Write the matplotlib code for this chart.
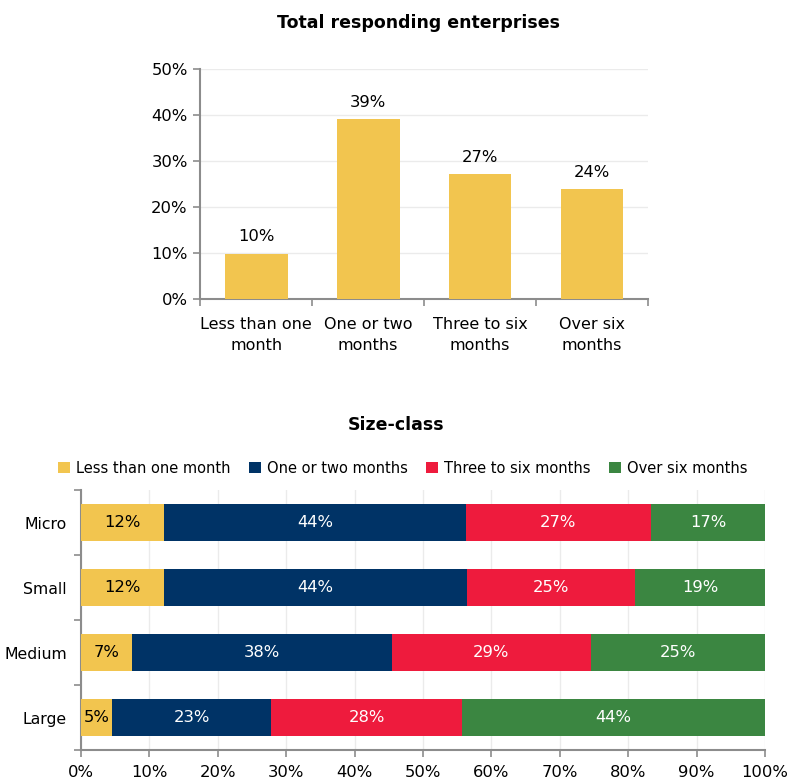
"""Time needed by enterprises: total responses and split by size-class."""

import matplotlib

matplotlib.use("Agg")
import matplotlib.pyplot as plt
import numpy as np

# Total responding enterprises
periods = ["Less than one\nmonth", "One or two\nmonths", "Three to six\nmonths", "Over six\nmonths"]
total_share = [9.9, 39.2, 27.1, 23.9]

# Size-class breakdown (share of each size-class, %)
size_classes = ["Micro", "Small", "Medium", "Large"]
series_names = ["Less than one month", "One or two months", "Three to six months", "Over six months"]
less_one = [12.1, 12.1, 7.4, 4.6]
one_two = [44.2, 44.3, 38.0, 23.2]
three_six = [27.0, 24.6, 29.2, 27.9]
over_six = [16.7, 19.0, 25.4, 44.3]

YELLOW = "#F2C54F"
NAVY = "#003366"
RED = "#EE1B3D"
GREEN = "#3B8641"
colors = [YELLOW, NAVY, RED, GREEN]
label_colors = ["black", "white", "white", "white"]
AXIS = "#8C8C8C"
GRID = "#EBEBEB"
FS = 11.3

plt.rcParams["font.family"] = ["DejaVu Sans"]

fig = plt.figure(figsize=(7.88, 7.83), dpi=100)

# --- top: total responding enterprises ---
ax_t = fig.add_axes([0.254, 0.618, 0.5685, 0.2937])
x = np.arange(len(periods))
ax_t.bar(x, total_share, width=0.56, color=YELLOW, zorder=3)
for xi, v in zip(x, total_share):
    ax_t.text(xi, v + 2.0, f"{v:.0f}%", ha="center", va="bottom", fontsize=FS + 0.5)
ax_t.set_xlim(-0.5, len(periods) - 0.5)
ax_t.set_ylim(0, 50)
ax_t.set_yticks(np.arange(0, 51, 10))
ax_t.set_yticklabels([f"{t}%" for t in range(0, 51, 10)], fontsize=FS + 0.5)
ax_t.set_xticks(x)
ax_t.set_xticklabels(periods, fontsize=FS + 0.2, linespacing=1.5)
ax_t.set_xticks(np.arange(-0.5, len(periods)), minor=True)
ax_t.tick_params(axis="x", which="major", length=0, pad=13)
ax_t.tick_params(axis="x", which="minor", length=5, color=AXIS, width=1.2)
ax_t.tick_params(axis="y", length=5, color=AXIS, width=1.2, pad=4)
ax_t.yaxis.grid(True, color=GRID, lw=1, zorder=0)
for side in ("top", "right"):
    ax_t.spines[side].set_visible(False)
for side in ("left", "bottom"):
    ax_t.spines[side].set_color(AXIS)
    ax_t.spines[side].set_linewidth(1.5)
fig.text(0.531, 0.971, "Total responding enterprises", ha="center", va="center",
         fontsize=12.5, fontweight="bold")

# --- bottom: size-class stacked bars ---
ax_b = fig.add_axes([0.1028, 0.0421, 0.868, 0.332])
y = np.arange(len(size_classes))
left = np.zeros(len(size_classes))
for name, vals, c, tc in zip(series_names, [less_one, one_two, three_six, over_six],
                             colors, label_colors):
    vals = np.array(vals)
    ax_b.barh(y, vals, left=left, height=0.57, color=c, label=name, zorder=3)
    for yi, l, v in zip(y, left, vals):
        ax_b.text(l + v / 2, yi, f"{v:.0f}%", ha="center", va="center",
                  color=tc, fontsize=FS + 0.5, zorder=4)
    left += vals
ax_b.set_xlim(0, 100)
ax_b.set_ylim(len(size_classes) - 0.5, -0.5)
ax_b.set_xticks(np.arange(0, 101, 10))
ax_b.set_xticklabels([f"{t}%" for t in range(0, 101, 10)], fontsize=FS + 0.5)
ax_b.set_yticks(y)
ax_b.set_yticklabels(size_classes, fontsize=FS)
ax_b.set_yticks(np.arange(-0.5, len(size_classes)), minor=True)
ax_b.tick_params(axis="y", which="major", length=0, pad=10)
ax_b.tick_params(axis="y", which="minor", length=5, color=AXIS, width=1.2)
ax_b.tick_params(axis="x", length=5, color=AXIS, width=1.2, pad=6)
ax_b.xaxis.grid(True, color=GRID, lw=1, zorder=0)
for side in ("top", "right"):
    ax_b.spines[side].set_visible(False)
for side in ("left", "bottom"):
    ax_b.spines[side].set_color(AXIS)
    ax_b.spines[side].set_linewidth(1.5)
fig.text(0.503, 0.457, "Size-class", ha="center", va="center",
         fontsize=12.5, fontweight="bold")
fig.legend(loc="center", bbox_to_anchor=(0.511, 0.402), ncol=4, frameon=False,
           fontsize=10.5, handlelength=0.8, handleheight=0.8, handletextpad=0.4,
           columnspacing=1.3)

fig.savefig("out.png", dpi=100)
